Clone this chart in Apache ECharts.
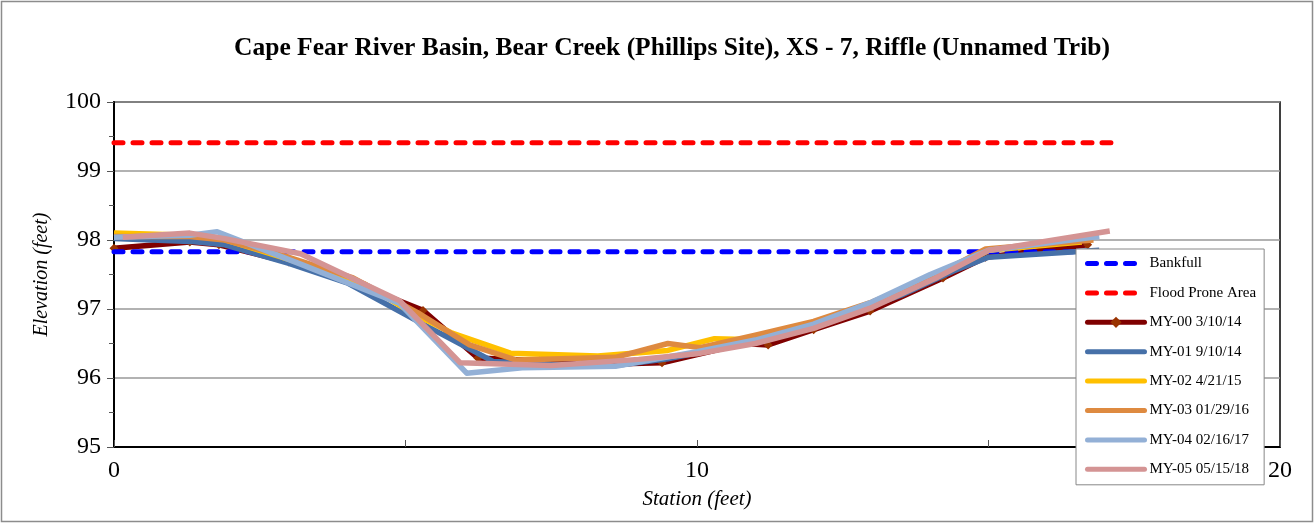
<!DOCTYPE html>
<html style="height: 100%">
    <head>
        <meta charset="utf-8">
        <title>XS - 7 Riffle</title>
        <script src="https://cdn.jsdelivr.net/npm/echarts@6/dist/echarts.min.js"></script>
    </head>
    <body style="height: 100%; margin: 0; background: #fff">
        <div id="container" style="width: 1314px; height: 523px"></div>
        <script type="text/javascript">
            // reference lines
            const bankX = [0, 17.1];
            const bankY = [97.83, 97.83];
            const floodX = [0, 17.1];
            const floodY = [99.41, 99.41];

            // surveys (station, elevation)
            const my00X = [0, 1.3, 1.8, 3.0, 4.2, 5.3, 6.24, 7.3, 8.4, 9.4, 10.8, 11.22, 12.0, 12.97, 14.22, 14.95, 16.7];
            const my00Y = [97.88, 97.97, 97.93, 97.68, 97.35, 96.98, 96.29, 96.25, 96.2, 96.22, 96.5, 96.48, 96.7, 96.97, 97.45, 97.75, 97.93];

            const my01X = [0, 1.3, 1.9, 3.0, 4.0, 5.3, 6.5, 7.5, 8.6, 9.5, 10.5, 11.5, 12.5, 13.5, 14.4, 15.0, 16.9];
            const my01Y = [98.02, 97.98, 97.93, 97.66, 97.38, 96.78, 96.24, 96.2, 96.18, 96.28, 96.45, 96.65, 96.9, 97.2, 97.55, 97.75, 97.85];

            const my02X = [0, 1.3, 1.8, 3.0, 4.3, 5.1, 5.8, 6.8, 8.3, 9.5, 10.3, 11.2, 12.0, 13.0, 14.3, 15.0, 16.6];
            const my02Y = [98.1, 98.07, 98.03, 97.72, 97.36, 96.95, 96.65, 96.36, 96.32, 96.4, 96.57, 96.55, 96.78, 97.05, 97.55, 97.85, 97.97];

            const my03X = [0, 1.3, 1.9, 3.0, 4.1, 5.2, 6.1, 6.9, 8.6, 9.5, 10.05, 11.0, 12.0, 13.0, 14.0, 14.95, 16.8];
            const my03Y = [98.05, 98.05, 98.0, 97.75, 97.45, 96.95, 96.48, 96.26, 96.3, 96.5, 96.44, 96.62, 96.82, 97.1, 97.45, 97.87, 98.0];

            const my04X = [0, 1.3, 1.77, 3.2, 4.9, 6.05, 7.0, 8.6, 10.0, 11.0, 12.0, 13.0, 14.0, 15.0, 16.9];
            const my04Y = [98.04, 98.07, 98.12, 97.65, 97.08, 96.07, 96.15, 96.17, 96.38, 96.55, 96.78, 97.1, 97.5, 97.85, 98.05];

            const my05X = [0.15, 1.3, 1.9, 3.2, 4.9, 5.94, 7.5, 9.0, 10.0, 11.0, 12.0, 13.0, 14.1, 15.0, 17.08];
            const my05Y = [98.04, 98.1, 98.02, 97.8, 97.12, 96.22, 96.18, 96.27, 96.35, 96.5, 96.72, 97.02, 97.45, 97.85, 98.13];

            const xTickLabels = {0: '0', 10: '10', 20: '20'};

            function pairs(xs, ys) {
                return xs.map(function (x, i) { return [x, ys[i]]; });
            }

            const serif = '"Liberation Serif", "Times New Roman", serif';

            function dashed(name, xs, ys, color) {
                return {
                    name: name,
                    type: 'line',
                    z: 3,
                    data: pairs(xs, ys),
                    symbol: 'none',
                    lineStyle: { color: color, width: 5, type: [9, 10], cap: 'round' },
                    itemStyle: { color: color }
                };
            }

            function survey(name, xs, ys, color) {
                return {
                    name: name,
                    type: 'line',
                    z: 3,
                    data: pairs(xs, ys),
                    symbol: 'none',
                    lineStyle: { color: color, width: 5.5, join: 'round' },
                    itemStyle: { color: color }
                };
            }

            // MY-00 sits under the later surveys so its markers are partly hidden
            let my00 = survey('MY-00 3/10/14', my00X, my00Y, '#7F0000');
            my00.z = 2;
            my00.symbol = 'diamond';
            my00.symbolSize = 9;
            my00.showSymbol = true;
            my00.itemStyle = { color: '#993300' };

            function legendItem(name, marker, dash) {
                let item = {
                    name: name,
                    lineStyle: { width: 5, cap: 'round' }
                };
                if (dash) item.lineStyle.type = [9, 10];
                if (!marker) item.itemStyle = { opacity: 0 };
                return item;
            }

            let chart = echarts.init(document.getElementById('container'));
            chart.setOption({
                animation: false,
                backgroundColor: '#fff',
                title: {
                    text: 'Cape Fear River Basin, Bear Creek (Phillips Site), XS - 7, Riffle (Unnamed Trib)',
                    left: 667,
                    textAlign: 'center',
                    top: 30,
                    textStyle: { fontFamily: serif, fontWeight: 'bold', fontSize: 25.5, color: '#000' }
                },
                graphic: [{
                    type: 'rect',
                    shape: { x: 1.5, y: 1.5, width: 1311, height: 520 },
                    style: { fill: null, stroke: '#8c8c8c', lineWidth: 1.5 },
                    silent: true
                }],
                grid: {
                    left: 114, right: 34, top: 102, bottom: 76,
                    show: true, borderColor: '#000', borderWidth: 1.5
                },
                legend: {
                    orient: 'vertical',
                    left: 1076,
                    top: 249,
                    padding: [7, 8, 8, 9],
                    itemWidth: 57,
                    itemHeight: 14,
                    itemGap: 14.4,
                    backgroundColor: '#fff',
                    borderColor: '#888',
                    borderWidth: 1,
                    textStyle: { fontFamily: serif, fontSize: 15, color: '#000', lineHeight: 14 },
                    data: [
                        legendItem('Bankfull', false, true), legendItem('Flood Prone Area', false, true),
                        legendItem('MY-00 3/10/14', true), legendItem('MY-01 9/10/14'),
                        legendItem('MY-02 4/21/15'), legendItem('MY-03 01/29/16'),
                        legendItem('MY-04 02/16/17'), legendItem('MY-05 05/15/18')
                    ]
                },
                xAxis: {
                    type: 'value',
                    min: 0, max: 20, interval: 5,
                    name: 'Station (feet)',
                    nameLocation: 'middle',
                    nameGap: 42,
                    nameTextStyle: { fontFamily: serif, fontStyle: 'italic', fontSize: 21, color: '#000' },
                    axisLine: { lineStyle: { color: '#000', width: 2 } },
                    axisTick: { inside: true, length: 7, lineStyle: { color: '#555' } },
                    axisLabel: {
                        margin: 12,
                        fontFamily: serif, fontSize: 24, color: '#000',
                        formatter: function (v) { return xTickLabels[v] || ''; }
                    },
                    splitLine: { show: false }
                },
                yAxis: {
                    type: 'value',
                    min: 95, max: 100, interval: 1,
                    name: 'Elevation (feet)',
                    nameLocation: 'middle',
                    nameGap: 62,
                    nameTextStyle: { fontFamily: serif, fontStyle: 'italic', fontSize: 20, color: '#000' },
                    axisLine: { show: true, lineStyle: { color: '#000', width: 2 } },
                    axisTick: { show: true, length: 7, lineStyle: { color: '#555' } },
                    minorTick: { show: true, splitNumber: 2, length: 5, lineStyle: { color: '#555' } },
                    axisLabel: { margin: 13, fontFamily: serif, fontSize: 24, color: '#000' },
                    splitLine: { lineStyle: { color: '#999', width: 1.5 } }
                },
                series: [
                    dashed('Bankfull', bankX, bankY, '#0000FF'),
                    dashed('Flood Prone Area', floodX, floodY, '#FF0000'),
                    my00,
                    survey('MY-01 9/10/14', my01X, my01Y, '#4670A8'),
                    survey('MY-02 4/21/15', my02X, my02Y, '#FFC000'),
                    survey('MY-03 01/29/16', my03X, my03Y, '#DE8A40'),
                    survey('MY-04 02/16/17', my04X, my04Y, '#93B0D6'),
                    survey('MY-05 05/15/18', my05X, my05Y, '#D49494')
                ]
            });
        </script>
    </body>
</html>
